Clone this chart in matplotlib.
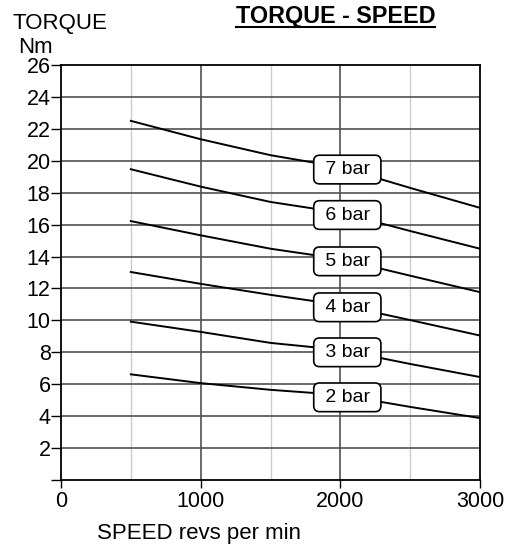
import matplotlib
matplotlib.use("Agg")
import matplotlib.pyplot as plt
from matplotlib.lines import Line2D
import numpy as np

plt.rcParams['font.family'] = ['Liberation Sans', 'DejaVu Sans']

# 回転数 [rpm]
speed = [500, 1000, 1500, 2000, 2500, 3000]

# 圧力ごとのトルク [Nm]
torque_7bar = [22.5, 21.35, 20.35, 19.6, 18.3, 17.05]
torque_6bar = [19.47, 18.38, 17.42, 16.75, 15.6, 14.49]
torque_5bar = [16.22, 15.33, 14.49, 13.85, 12.8, 11.77]
torque_4bar = [13.03, 12.29, 11.6, 10.97, 10.02, 9.05]
torque_3bar = [9.92, 9.28, 8.59, 8.15, 7.27, 6.45]
torque_2bar = [6.62, 6.07, 5.65, 5.33, 4.58, 3.88]

labels = ["7 bar", "6 bar", "5 bar", "4 bar", "3 bar", "2 bar"]
series = [torque_7bar, torque_6bar, torque_5bar, torque_4bar, torque_3bar, torque_2bar]

x_ticks = [0, 1000, 2000, 3000]
y_ticks = list(range(0, 27, 2))

fig = plt.figure(figsize=(5.09, 5.47), dpi=100)
ax = fig.add_axes([61 / 509, 1 - 480 / 547, (480 - 61) / 509, (480 - 65) / 547])

# グリッド
for xv in [500, 1500, 2500]:
    ax.axvline(xv, color="#cccccc", lw=1.0, zorder=0)
for xv in [1000, 2000]:
    ax.axvline(xv, color="#505050", lw=1.2, zorder=0)
for yv in y_ticks[1:-1]:
    ax.axhline(yv, color="#505050", lw=1.2, zorder=0)

for lab, tq in zip(labels, series):
    ax.plot(speed, tq, color="black", lw=1.4, zorder=2)
    yl = np.interp(2000, speed, tq) - 0.15
    ax.text(2050, yl, " " + lab + " ", fontsize=14, ha="center", va="center", zorder=3,
            bbox=dict(boxstyle="round,pad=0.3,rounding_size=0.3", fc="white", ec="black", lw=1.2))

ax.set_xlim(0, 3000)
ax.set_ylim(0, 26)
ax.set_xticks(x_ticks)
ax.set_xticklabels([str(v) for v in x_ticks], fontsize=15.5)
ax.set_yticks(y_ticks)
ax.set_yticklabels([""] + [str(v) for v in y_ticks[1:]], fontsize=15.5)
ax.tick_params(axis="x", direction="out", length=6, width=1, pad=2)
ax.tick_params(axis="y", direction="out", length=7, width=1, pad=0.5)
for s in ax.spines.values():
    s.set_color("black")
    s.set_linewidth(1.3)

fig.text(0.025, 1 - 29 / 547, "TORQUE", fontsize=16, va="baseline", ha="left")
fig.text(0.0354, 1 - 52.7 / 547, "Nm", fontsize=16, va="baseline", ha="left")
fig.text(97 / 509, 1 - 539 / 547, "SPEED revs per min", fontsize=16, va="baseline", ha="left")

title = fig.text(335.5 / 509, 1 - 22.5 / 547, "TORQUE - SPEED", fontsize=16.8,
                 fontweight="bold", va="baseline", ha="center")
fig.canvas.draw()
bb = title.get_window_extent().transformed(fig.transFigure.inverted())
uy = 1 - 27 / 547
fig.add_artist(Line2D([bb.x0, bb.x1], [uy, uy], color="black", lw=1.5, transform=fig.transFigure))

fig.savefig("out.png", dpi=100)
